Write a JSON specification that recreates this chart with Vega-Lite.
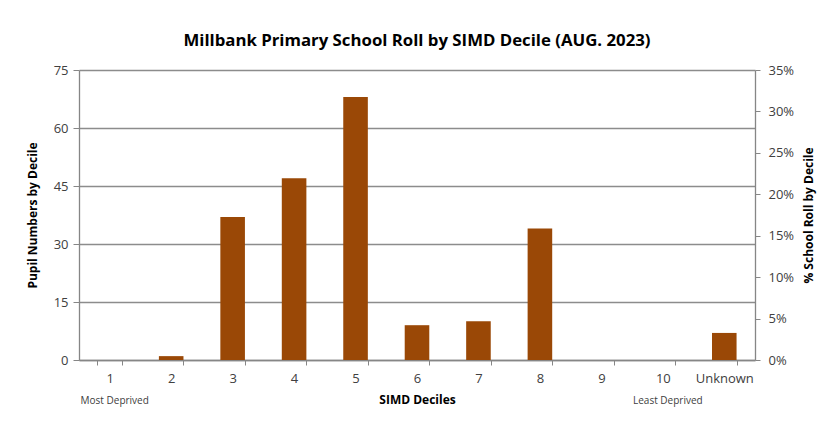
{
  "$schema": "https://vega.github.io/schema/vega-lite/v6.json",
  "width": 676,
  "height": 290,
  "autosize": {"type": "none"},
  "padding": {"left": 79, "top": 70, "right": 69, "bottom": 63},
  "background": "white",
  "config": {
    "font": "Open Sans",
    "view": {"stroke": null},
    "axis": {"labelFont": "Open Sans", "titleFont": "Open Sans"}
  },
  "title": {
    "text": "Millbank Primary School Roll by SIMD Decile (AUG. 2023)",
    "fontSize": 16.8,
    "fontWeight": "bold",
    "color": "#000000",
    "anchor": "middle",
    "frame": "group",
    "offset": 14
  },
  "datasets": {
    "roll": [
      {"decile": "1", "pupils": 0, "pct": 0},
      {"decile": "2", "pupils": 1, "pct": 0.0047},
      {"decile": "3", "pupils": 37, "pct": 0.1737},
      {"decile": "4", "pupils": 47, "pct": 0.2207},
      {"decile": "5", "pupils": 68, "pct": 0.3192},
      {"decile": "6", "pupils": 9, "pct": 0.0423},
      {"decile": "7", "pupils": 10, "pct": 0.0469},
      {"decile": "8", "pupils": 34, "pct": 0.1596},
      {"decile": "9", "pupils": 0, "pct": 0},
      {"decile": "10", "pupils": 0, "pct": 0},
      {"decile": "Unknown", "pupils": 7, "pct": 0.0329}
    ],
    "notes": [
      {"decile": "1", "note": "Most Deprived"},
      {"decile": "10", "note": "Least Deprived"}
    ]
  },
  "encoding": {
    "x": {
      "field": "decile",
      "type": "nominal",
      "sort": null,
      "scale": {"paddingInner": 0.6, "paddingOuter": 0.3, "domain": ["1","2","3","4","5","6","7","8","9","10","Unknown"]},
      "axis": {
        "title": "SIMD Deciles",
        "titleFontSize": 12,
        "titleFontWeight": "bold",
        "titleColor": "#000000",
        "titlePadding": 9,
        "labelAngle": 0,
        "labelFontSize": 13,
        "labelColor": "#404040",
        "labelPadding": 7,
        "tickBand": "extent",
        "tickSize": 5,
        "tickColor": "#868686",
        "domainColor": "#868686",
        "domainWidth": 1.3,
        "grid": false
      }
    }
  },
  "layer": [
    {
      "layer": [
        {
          "data": {"name": "roll"},
          "mark": {"type": "bar", "color": "#9A4806"},
          "encoding": {
            "y": {
              "field": "pupils",
              "type": "quantitative",
              "scale": {"domain": [0, 75], "nice": false},
              "axis": {
                "title": "Pupil Numbers by Decile",
                "titleFontSize": 12,
                "titleFontWeight": "bold",
                "titleColor": "#000000",
                "titlePadding": 14,
                "values": [0, 15, 30, 45, 60, 75],
                "labelFontSize": 13,
                "labelColor": "#404040",
                "labelPadding": 5,
                "tickSize": 6,
                "tickColor": "#868686",
                "domainColor": "#868686",
                "domainWidth": 1.3,
                "gridColor": "#8C8C8C",
                "gridWidth": 1.3,
                "grid": true
              }
            }
          }
        },
        {
          "data": {"name": "notes"},
          "mark": {"type": "text", "fontSize": 10, "color": "#404040", "dy": 41, "dx": 5, "baseline": "middle"},
          "encoding": {
            "y": {"datum": 0, "type": "quantitative"},
            "text": {"field": "note"}
          }
        }
      ]
    },
    {
      "data": {"name": "roll"},
      "mark": {"type": "bar", "opacity": 0},
      "encoding": {
        "y": {
          "field": "pct",
          "type": "quantitative",
          "scale": {"domain": [0, 0.35], "nice": false},
          "axis": {
            "orient": "right",
            "title": "% School Roll by Decile",
            "titleFontSize": 12,
            "titleFontWeight": "bold",
            "titleColor": "#000000",
            "titleAngle": 270,
            "titleBaseline": "top",
            "titlePadding": 10,
            "format": ".0%",
            "values": [0, 0.05, 0.1, 0.15, 0.2, 0.25, 0.3, 0.35],
            "labelFontSize": 13,
            "labelColor": "#404040",
            "labelPadding": 8,
            "tickSize": 5,
            "tickColor": "#868686",
            "domainColor": "#868686",
            "domainWidth": 1.3,
            "grid": false
          }
        }
      }
    }
  ],
  "resolve": {"scale": {"y": "independent"}}
}
